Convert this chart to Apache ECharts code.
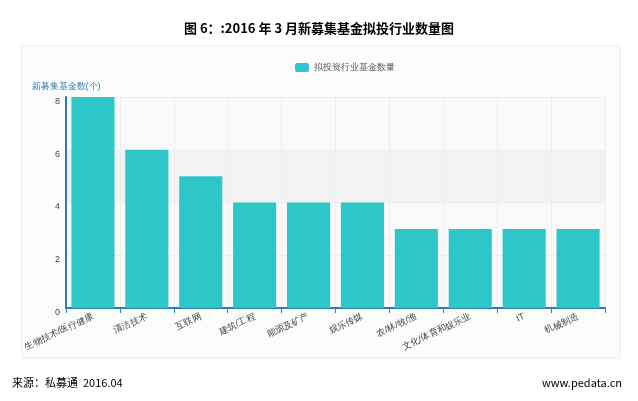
<!DOCTYPE html>
<html><head><meta charset="utf-8">
<script src="https://cdn.jsdelivr.net/npm/echarts@6/dist/echarts.min.js"></script>
<style>body{margin:0;background:#fff}#c{width:638px;height:401px}</style></head>
<body><div id="c"></div>
<script>
const categories=["生物技术/医疗健康","清洁技术","互联网","建筑/工程","能源及矿产","娱乐传媒","农/林/牧/渔","文化/体育和娱乐业","IT","机械制造"];
const values=[8,6,5,4,4,4,3,3,3,3];
const seriesName="拟投资行业基金数量";
const chart=echarts.init(document.getElementById('c'));
chart.setOption({
  animation:false,
  graphic:[
    {type:'rect',shape:{x:22,y:46,width:598,height:312},style:{fill:'#fcfcfc',stroke:'#eeeeee'}},
    {type:'text',left:'center',top:22,style:{text:'图 6：:2016 年 3 月新募集基金拟投行业数量图',font:'bold 13px "Noto Sans CJK SC"',fill:'#000'}},
    {type:'text',left:12,top:377,style:{text:'来源：私募通  2016.04',font:'11px "Noto Sans CJK SC"',fill:'#000'}},
    {type:'text',right:16,top:377,style:{text:'www.pedata.cn',font:'11px "Noto Sans CJK SC"',fill:'#000'}}
  ],
  legend:{top:58,left:290,itemWidth:14,itemHeight:9,itemGap:6,textStyle:{fontSize:9,color:'#555'},data:[seriesName]},
  grid:{left:66,right:33,top:97,bottom:93},
  xAxis:{type:'category',data:categories,
    axisLine:{lineStyle:{color:'#2a7fb0',width:2}},axisTick:{show:true,lineStyle:{color:'#2a7fb0'}},
    axisLabel:{rotate:25,fontSize:9,color:'#444',interval:0,margin:8},
    splitLine:{show:true,lineStyle:{color:'#eeeeee'}}},
  yAxis:{type:'value',min:0,max:8,interval:2,name:'新募集基金数(个)',nameGap:6,
    nameTextStyle:{color:'#2a7fb0',fontSize:9,align:'center',padding:[0,0,0,0]},
    axisLine:{show:true,lineStyle:{color:'#2a7fb0',width:2}},
    axisLabel:{fontSize:9,color:'#444',verticalAlign:'top',margin:6},
    splitLine:{lineStyle:{color:'#eeeeee'}},
    splitArea:{show:true,areaStyle:{color:['#fafafa','#fafafa','#f2f2f2','#fafafa']}}},
  series:[{name:seriesName,type:'bar',data:values,barWidth:'80%',itemStyle:{color:'#2ec7c9'}}]
});
</script></body></html>
